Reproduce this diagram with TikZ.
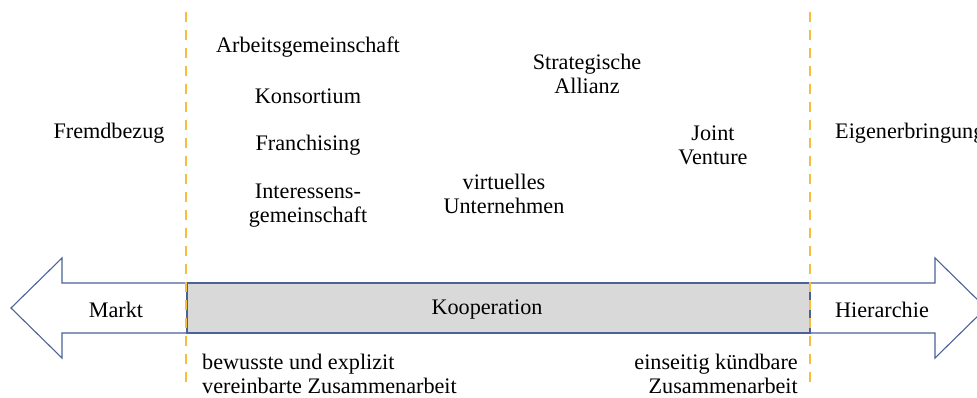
\documentclass[tikz,border=0pt]{standalone}
\usepackage{fontspec}
\setmainfont{Liberation Serif}
\definecolor{frame}{HTML}{4A6396}
\definecolor{coopfill}{HTML}{D9D9D9}
\definecolor{divider}{HTML}{F4BE3E}
\begin{document}
\begin{tikzpicture}[x=1pt,y=-1pt,
  lbl/.style={font=\fontsize{22.2}{24}\selectfont, inner sep=0pt, align=center, yshift=-2pt},
  outline/.style={draw=frame, line width=1.1pt, line join=miter},
  divline/.style={draw=divider, line width=1.8pt, dash pattern=on 10pt off 8pt}]
\useasboundingbox (0,0) rectangle (977,398);
\begin{scope}
\clip (0,0) rectangle (977,398);
% left arrow (Markt)
\draw[outline, fill=white] (186,283) -- (62,283) -- (62,258) -- (11,308) -- (62,358) -- (62,333) -- (186,333);
% right arrow (Hierarchie)
\draw[outline, fill=white] (810,283) -- (935,283) -- (935,258) -- (986,308) -- (935,358) -- (935,333) -- (810,333);
% cooperation band
\draw[outline, fill=coopfill] (187,283) rectangle (810,333);
\node[lbl] (markt) at (116,308) {Markt};
\node[lbl] (koop) at (487,308) {Kooperation};
\node[lbl] (hier) at (882,308) {Hierarchie};
% borders of the cooperation zone
\coordinate (dlt) at (186,12);
\coordinate (dlb) at (186,385);
\coordinate (drt) at (810,12);
\coordinate (drb) at (810,385);
\draw[divline] (dlt) -- (dlb);
\draw[divline] (drt) -- (drb);
% forms of coordination
\node[lbl] (fremd) at (109,131) {Fremdbezug};
\node[lbl, anchor=west] (eigen) at (835,131) {Eigenerbringung};
\node[lbl] (arge) at (308,45) {Arbeitsgemeinschaft};
\node[lbl] (kons) at (308,94) {Konsortium};
\node[lbl] (fran) at (308,143) {Franchising};
\node[lbl] (ig) at (308,204) {Interessens-\\gemeinschaft};
\node[lbl] (sa) at (587,72) {Strategische\\Allianz};
\node[lbl] (vu) at (504,192) {virtuelles\\Unternehmen};
\node[lbl] (jv) at (713,143) {Joint\\Venture};
\node[lbl, anchor=west, align=left] (bew) at (202,372) {bewusste und explizit\\vereinbarte Zusammenarbeit};
\node[lbl, anchor=east, align=right] (eins) at (798,372) {einseitig kündbare\\Zusammenarbeit};
\end{scope}
\end{tikzpicture}
\end{document}
